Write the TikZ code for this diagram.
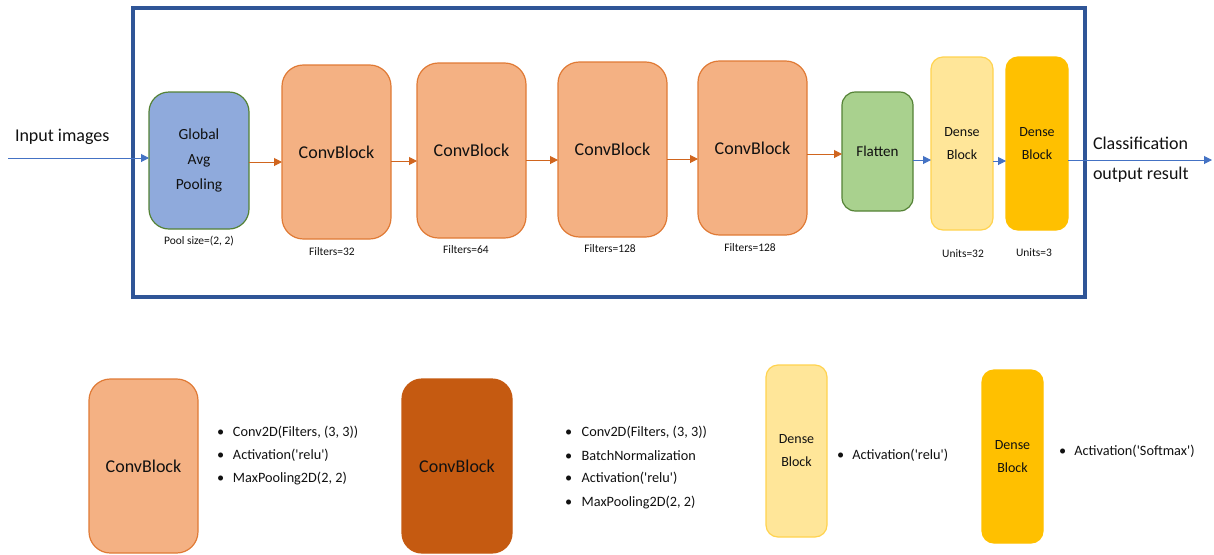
\documentclass[tikz,border=0pt]{standalone}
\usepackage{fontspec}
\setmainfont{Carlito}
\usetikzlibrary{arrows.meta}
\definecolor{frameblue}{HTML}{2F5597}
\definecolor{arrowblue}{HTML}{4472C4}
\definecolor{gapfill}{HTML}{8FAADC}
\definecolor{greenline}{HTML}{548235}
\definecolor{convfill}{HTML}{F4B183}
\definecolor{convline}{HTML}{E07A35}
\definecolor{arroworange}{HTML}{D0651E}
\definecolor{flatfill}{HTML}{A9D18E}
\definecolor{densefill}{HTML}{FFE699}
\definecolor{denseline}{HTML}{FFD34F}
\definecolor{dense2fill}{HTML}{FFC000}
\definecolor{darkconv}{HTML}{C55A11}
\definecolor{txt}{HTML}{111111}
\newcommand{\sq}{\textquotesingle}
\begin{document}
\begin{tikzpicture}[x=0.75pt,y=-0.75pt,
  every node/.style={inner sep=0pt,outer sep=0pt,text=txt},
  box/.style={draw,line width=0.9pt,align=center},
  convbox/.style={box,fill=convfill,draw=convline,rounded corners=16pt,minimum width=81.75pt,minimum height=130.5pt,font=\fontsize{13.5}{16}\selectfont},
  densebox/.style={box,fill=densefill,draw=denseline,rounded corners=9pt,minimum width=46.5pt,minimum height=129.75pt,font=\fontsize{10.5}{17.25}\selectfont},
  dense2box/.style={box,fill=dense2fill,draw=dense2fill,rounded corners=9pt,minimum width=46.5pt,minimum height=129.75pt,font=\fontsize{10.5}{17.25}\selectfont},
  small/.style={font=\fontsize{8.6}{10}\selectfont},
  bullets/.style={align=left,anchor=west,font=\fontsize{10.7}{17.25}\selectfont},
  oarrow/.style={draw=arroworange,line width=0.75pt,-{Triangle[length=6pt,width=6pt]}},
  barrow/.style={draw=arrowblue,line width=0.75pt,-{Triangle[length=6pt,width=6pt]}},
]
\useasboundingbox (0,0) rectangle (1214,554);
% frame
\node[draw=frameblue,line width=2.3pt,minimum width=714pt,minimum height=216.75pt] (frame) at (609,152.5) {};
% top row
\node[box,fill=gapfill,draw=greenline,rounded corners=15pt,minimum width=75pt,minimum height=102.75pt,font=\fontsize{11.6}{18.75}\selectfont] (gap) at (199,160.5) {Global\\Avg\\Pooling};
\node[convbox] (cb1) at (336.5,152) {ConvBlock};
\node[convbox,minimum height=131.25pt] (cb2) at (471.5,150.5) {ConvBlock};
\node[convbox,minimum height=131.25pt] (cb3) at (612.5,149.5) {ConvBlock};
\node[convbox] (cb4) at (752.5,148) {ConvBlock};
\node[box,fill=flatfill,draw=greenline,rounded corners=10pt,minimum width=53.25pt,minimum height=89.25pt,font=\fontsize{11.3}{14}\selectfont] (flat) at (877.5,151.5) {Flatten};
\node[densebox] (d1) at (962,143.5) {Dense\\Block};
\node[dense2box] (d2) at (1037,143.5) {Dense\\Block};
% labels
\node[anchor=west,font=\fontsize{13.5}{16}\selectfont] (inlab) at (15,137) {Input images};
\node[anchor=west,align=left,font=\fontsize{13.5}{22.5}\selectfont] (outlab) at (1093,160) {Classification\\output result};
\node[small] (pool) at (199,241) {Pool size=(2, 2)};
\node[small] (f32) at (332,252) {Filters=32};
\node[small] (f64) at (466,250) {Filters=64};
\node[small] (f128a) at (610,249) {Filters=128};
\node[small] (f128b) at (750,248) {Filters=128};
\node[small] (u32) at (963,254) {Units=32};
\node[small] (u3) at (1034,253) {Units=3};
% connectors
\coordinate (in) at (8,158);
\coordinate (out) at (1212,160);
\draw[barrow] (in) -- (gap.west |- in);
\draw[oarrow] (gap.east |- 0,162) -- (cb1.west |- 0,162);
\draw[oarrow] (cb1.east |- 0,161) -- (cb2.west |- 0,161);
\draw[oarrow] (cb2.east |- 0,160) -- (cb3.west |- 0,160);
\draw[oarrow] (cb3.east |- 0,159) -- (cb4.west |- 0,159);
\draw[oarrow] (cb4.east |- 0,154) -- (flat.west |- 0,154);
\draw[barrow] (flat.east |- 0,160) -- (d1.west |- 0,160);
\draw[barrow] (d1.east |- 0,161) -- (d2.west |- 0,161);
\draw[barrow] (d2.east |- out) -- (out);
% legend
\node[convbox,minimum height=130.5pt] (lcb) at (143.5,466) {ConvBlock};
\node[bullets] (lcbt) at (217,455.5) {\makebox[12pt][l]{\textbullet}Conv2D(Filters, (3, 3))\\\makebox[12pt][l]{\textbullet}Activation(\sq relu\sq)\\\makebox[12pt][l]{\textbullet}MaxPooling2D(2, 2)};
\node[convbox,fill=darkconv,draw=darkconv,minimum width=82.5pt,minimum height=130.5pt,rounded corners=15pt] (lcb2) at (457,466) {ConvBlock};
\node[bullets] (lcb2t) at (565,467.5) {\makebox[12.5pt][l]{\textbullet}Conv2D(Filters, (3, 3))\\\makebox[12.5pt][l]{\textbullet}BatchNormalization\\\makebox[12.5pt][l]{\textbullet}Activation(\sq relu\sq)\\\makebox[12.5pt][l]{\textbullet}MaxPooling2D(2, 2)};
\node[densebox,minimum width=45.75pt,minimum height=129pt] (ld1) at (796.5,451) {Dense\\Block};
\node[bullets] (ld1t) at (837,455) {\makebox[11.5pt][l]{\textbullet}Activation(\sq relu\sq)};
\node[dense2box,minimum width=45.75pt,minimum height=129.75pt] (ld2) at (1012.5,456.5) {Dense\\Block};
\node[bullets] (ld2t) at (1059,451) {\makebox[11.5pt][l]{\textbullet}Activation(\sq Softmax\sq)};
\end{tikzpicture}
\end{document}
